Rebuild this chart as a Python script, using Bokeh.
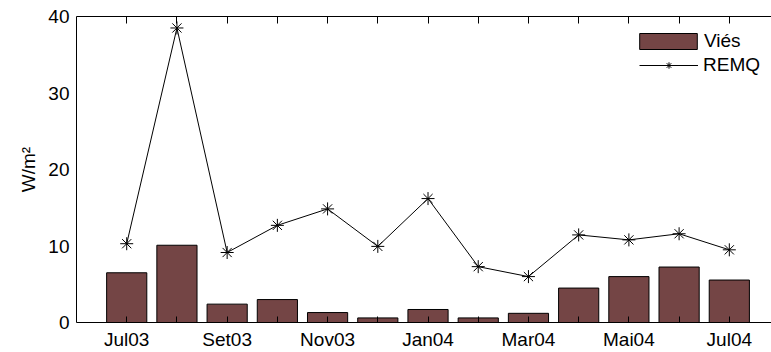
from bokeh.plotting import figure
from bokeh.models import (Range1d, FixedTicker, LinearAxis, Legend, LegendItem,
                          ColumnDataSource)
from bokeh.embed import file_html
from bokeh.resources import INLINE

# Monthly values, Jul 2003 - Jul 2004
months = ["Jul03", "Ago03", "Set03", "Out03", "Nov03", "Dez03", "Jan04",
          "Fev04", "Mar04", "Abr04", "Mai04", "Jun04", "Jul04"]
vies = [6.5, 10.1, 2.4, 3.0, 1.3, 0.6, 1.7, 0.6, 1.2, 4.5, 6.0, 7.25, 5.55]
remq = [10.3, 38.5, 9.15, 12.7, 14.85, 9.95, 16.2, 7.3, 6.0, 11.45, 10.8, 11.6, 9.5]
y_ticks = [0, 10, 20, 30, 40]

FONT = "Liberation Sans"
FS = "19px"
BAR = "#744545"

idx = list(range(len(months)))
src = ColumnDataSource(dict(x=idx, vies=vies, remq=remq))

p = figure(width=771, height=352, output_backend="svg", toolbar_location=None,
           x_range=Range1d(-1, 12.84), y_range=Range1d(0, 40),
           min_border_left=76, min_border_top=16, min_border_bottom=29,
           min_border_right=0)
p.outline_line_color = None
p.xgrid.visible = False
p.ygrid.visible = False
p.background_fill_color = "white"
p.border_fill_color = "white"

bars = p.vbar(x="x", top="vies", width=0.8, source=src, fill_color=BAR,
              line_color="black", line_width=1)
ln = p.line(x="x", y="remq", source=src, line_color="black", line_width=1)
mk = p.scatter(x="x", y="remq", source=src, marker="asterisk", size=13,
               line_color="black", line_width=1)

# bottom axis: tick at every month, label every other month
xa = p.xaxis[0]
xa.ticker = FixedTicker(ticks=idx)
xa.major_label_overrides = {i: (m if i % 2 == 0 else "") for i, m in enumerate(months)}
xa.major_tick_in = 6
xa.major_tick_out = 0
xa.minor_tick_line_color = None
xa.axis_line_color = "black"
xa.major_tick_line_color = "black"
xa.major_label_text_font = FONT
xa.major_label_text_font_size = FS
xa.major_label_text_color = "black"
xa.major_label_standoff = 6

# top border with inward ticks
top = LinearAxis(ticker=FixedTicker(ticks=idx), major_label_text_alpha=0,
                 major_label_text_font_size="1px", major_label_standoff=0,
                 major_tick_in=7, major_tick_out=0, minor_tick_line_color=None,
                 axis_line_color="black", major_tick_line_color="black")
p.add_layout(top, "above")

ya = p.yaxis[0]
ya.ticker = FixedTicker(ticks=y_ticks)
ya.major_tick_in = 0
ya.major_tick_out = 0
ya.minor_tick_line_color = None
ya.axis_line_color = "black"
ya.major_label_text_font = FONT
ya.major_label_text_font_size = FS
ya.major_label_text_color = "black"
ya.major_label_standoff = 7
ya.axis_label = "W/m²"
ya.axis_label_text_font = FONT
ya.axis_label_text_font_size = FS
ya.axis_label_text_font_style = "normal"
ya.axis_label_text_color = "black"
ya.axis_label_standoff = 6

# Legend entries are split in two so the bar swatch and the line sample
# can have the same drawn width (bar swatches are inset 10% per side).
common = dict(orientation="vertical", padding=0, margin=0,
              border_line_color=None, background_fill_alpha=0,
              label_text_font=FONT, label_text_font_size=FS,
              label_text_color="black", label_height=16)
leg_bar = Legend(items=[LegendItem(label="Viés", renderers=[bars])],
                 location=(556, 270), glyph_width=72, glyph_height=20,
                 label_standoff=0, **common)
leg_line = Legend(items=[LegendItem(label="REMQ", renderers=[ln, mk])],
                  location=(563, 246), glyph_width=59, glyph_height=16,
                  label_standoff=5, **common)
p.add_layout(leg_bar, "center")
p.add_layout(leg_line, "center")

open("out.html", "w").write(file_html(p, INLINE))
